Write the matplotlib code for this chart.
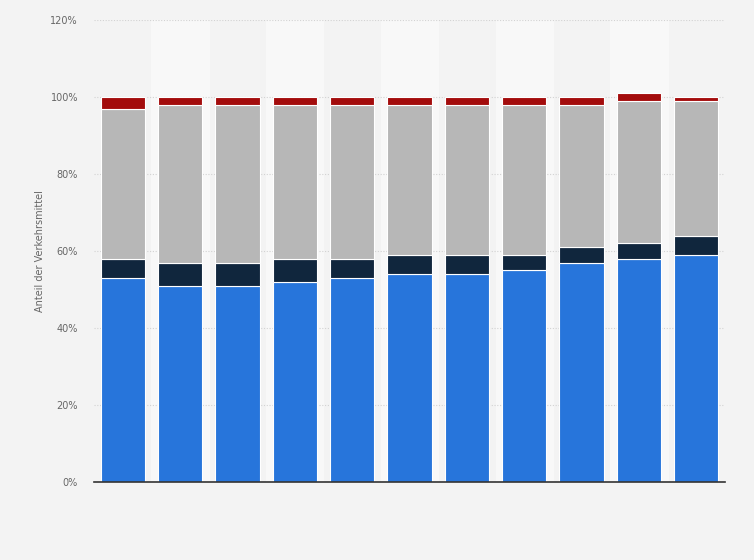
import numpy as np
import matplotlib.pyplot as plt
from matplotlib.ticker import FuncFormatter

# Anteile je Verkehrsmittel (in %), 11 Balken
blau  = [53, 51, 51, 52, 53, 54, 54, 55, 57, 58, 59]
navy  = [5, 6, 6, 6, 5, 5, 5, 4, 4, 4, 5]
grau  = [39, 41, 41, 40, 40, 39, 39, 39, 37, 37, 35]
rot   = [3, 2, 2, 2, 2, 2, 2, 2, 2, 2, 1]

farben = ['#2775db', '#10263d', '#b7b7b7', '#a30c0c']

fig = plt.figure(figsize=(7.54, 5.6), dpi=100)
fig.patch.set_facecolor('#f3f3f3')
ax = fig.add_axes([0.1247, 0.1393, 0.9615 - 0.1247, 0.9643 - 0.1393])
ax.set_facecolor('#f3f3f3')

x = np.arange(len(blau))
# hellere Streifen hinter jedem zweiten Balken
for i in x[1::2]:
    ax.axvspan(i - 0.5, i + 0.5, color='#f8f8f8', zorder=0)

unten = np.zeros(len(blau))
for werte, farbe in zip([blau, navy, grau, rot], farben):
    ax.bar(x, werte, width=0.77, bottom=unten, color=farbe,
           edgecolor='white', linewidth=0.8, zorder=3)
    unten += np.array(werte)

ax.set_xlim(-0.5, len(blau) - 0.5)
ax.set_ylim(0, 120)
ax.set_yticks(np.arange(0, 121, 20))
ax.yaxis.set_major_formatter(FuncFormatter(lambda v, p: f'{v:.0f}%'))
ax.set_xticks([])
ax.grid(axis='y', color='#d2d2d2', linestyle=(0, (1, 1.5)), linewidth=0.8, zorder=1)
ax.tick_params(axis='y', length=0, pad=11.5, labelsize=7, labelcolor='#666666')

for s in ['top', 'right', 'left']:
    ax.spines[s].set_visible(False)
ax.spines['bottom'].set_color('#333333')
ax.spines['bottom'].set_linewidth(1.2)
ax.spines['bottom'].set_zorder(4)

ax.set_ylabel('Anteil der Verkehrsmittel', fontsize=7, color='#666666', labelpad=4)

fig.savefig('out.png', dpi=100, facecolor=fig.get_facecolor())
